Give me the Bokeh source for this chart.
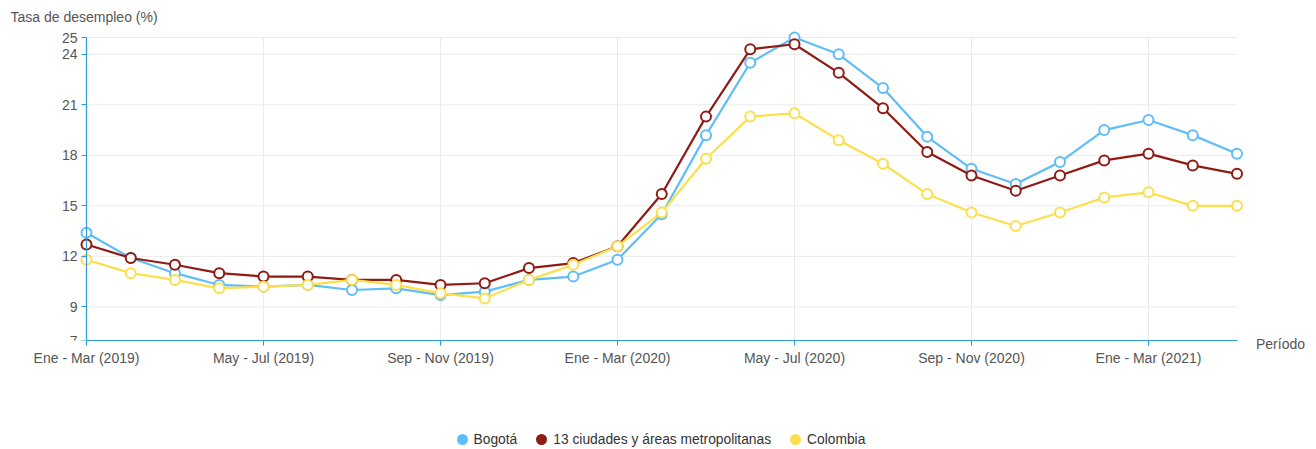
import numpy as np
from bokeh.plotting import figure
from bokeh.layouts import column
from bokeh.models import Range1d, FixedTicker, Legend, LegendItem
from bokeh.embed import file_html
from bokeh.resources import INLINE

periods = ["Ene - Mar (2019)", "Feb - Abr (2019)", "Mar - May (2019)", "Abr - Jun (2019)",
           "May - Jul (2019)", "Jun - Ago (2019)", "Jul - Sep (2019)", "Ago - Oct (2019)",
           "Sep - Nov (2019)", "Oct - Dic (2019)", "Nov - Ene (2020)", "Dic - Feb (2020)",
           "Ene - Mar (2020)", "Feb - Abr (2020)", "Mar - May (2020)", "Abr - Jun (2020)",
           "May - Jul (2020)", "Jun - Ago (2020)", "Jul - Sep (2020)", "Ago - Oct (2020)",
           "Sep - Nov (2020)", "Oct - Dic (2020)", "Nov - Ene (2021)", "Dic - Feb (2021)",
           "Ene - Mar (2021)", "Feb - Abr (2021)", "Mar - May (2021)"]
bogota = [13.4, 11.9, 11.0, 10.3, 10.2, 10.3, 10.0, 10.1, 9.7, 9.9, 10.6, 10.8, 11.8, 14.5,
          19.2, 23.5, 25.0, 24.0, 22.0, 19.1, 17.2, 16.3, 17.6, 19.5, 20.1, 19.2, 18.1]
ciudades = [12.7, 11.9, 11.5, 11.0, 10.8, 10.8, 10.6, 10.6, 10.3, 10.4, 11.3, 11.6, 12.6, 15.7,
            20.3, 24.3, 24.6, 22.9, 20.8, 18.2, 16.8, 15.9, 16.8, 17.7, 18.1, 17.4, 16.9]
colombia = [11.8, 11.0, 10.6, 10.1, 10.2, 10.3, 10.6, 10.3, 9.8, 9.5, 10.6, 11.5, 12.6, 14.6,
            17.8, 20.3, 20.5, 18.9, 17.5, 15.7, 14.6, 13.8, 14.6, 15.5, 15.8, 15.0, 15.0]
series_names = ["Bogotá", "13 ciudades y áreas metropolitanas", "Colombia"]
series_colors = ["#5fbdf7", "#8e1b14", "#fbe04c"]
y_ticks = [7, 9, 12, 15, 18, 21, 24, 25]
x_tick_step = 4

FONT = "Liberation Sans"
TXT = "#555555"
AXIS = "#2f9ad8"
GRID = "#ebebeb"

n = len(periods)
xs = list(range(n))
x_ticks = list(range(0, n, x_tick_step))

# ---------------- main chart ----------------
p = figure(width=1316, height=380,
           x_range=Range1d(-1.2655, (n - 1) + 0.983),
           y_range=Range1d(y_ticks[0], y_ticks[-1] + 0.416),
           output_backend="svg", toolbar_location=None,
           min_border_left=30, min_border_right=36,
           min_border_top=30, min_border_bottom=40,
           outline_line_color=None, background_fill_color="white",
           title="Tasa de desempleo (%)")
p.grid.visible = False
p.title.align = "left"
p.title.offset = -20
p.title.text_font = FONT
p.title.text_font_size = "14px"
p.title.text_font_style = "normal"
p.title.text_color = TXT
p.title.standoff = 12

# grid lines (from tick lists)
p.segment(x0=[0] * len(y_ticks), x1=[n - 1] * len(y_ticks), y0=y_ticks, y1=y_ticks,
          line_color=GRID, line_width=1)
p.segment(x0=x_ticks[1:], x1=x_ticks[1:], y0=[y_ticks[0]] * (len(x_ticks) - 1),
          y1=[y_ticks[-1]] * (len(x_ticks) - 1), line_color=GRID, line_width=1)

# axes
xa = p.xaxis[0]
xa.ticker = FixedTicker(ticks=x_ticks)
xa.major_label_overrides = {i: periods[i] for i in x_ticks}
xa.bounds = (0, n - 1)
xa.axis_label = "Período"
xa.axis_label_align = "end"
xa.axis_label_standoff = -33
xa.axis_label_text_font = FONT
xa.axis_label_text_font_size = "14px"
xa.axis_label_text_font_style = "normal"
xa.axis_label_text_color = TXT
ya = p.yaxis[0]
ya.ticker = FixedTicker(ticks=y_ticks)
ya.bounds = (y_ticks[0], y_ticks[-1])
ya.fixed_location = 0
for ax in (xa, ya):
    ax.axis_line_color = AXIS
    ax.axis_line_width = 1.2
    ax.major_tick_line_color = AXIS
    ax.major_tick_out = 5
    ax.major_tick_in = 0
    ax.minor_tick_out = 0
    ax.minor_tick_in = 0
    ax.major_label_text_font = FONT
    ax.major_label_text_font_size = "14px"
    ax.major_label_text_color = TXT
    ax.major_label_standoff = 4

# series
for vals, col in zip([bogota, ciudades, colombia], series_colors):
    p.line(xs, vals, line_color=col, line_width=2.2)
    p.scatter(xs, vals, size=10, fill_color="white", line_color=col, line_width=2)

# ---------------- legend strip ----------------
pl = figure(width=1316, height=69, x_range=Range1d(0, 1), y_range=Range1d(0, 1),
            x_axis_location=None, y_axis_location=None,
            output_backend="svg", toolbar_location=None,
            min_border_left=0, min_border_right=0, min_border_top=0, min_border_bottom=0,
            outline_line_color=None, background_fill_color="white")
pl.grid.visible = False
items = []
for name, col in zip(series_names, series_colors):
    r = pl.scatter(x=[np.nan], y=[np.nan], size=8, fill_color=col, line_color=col, line_width=3)
    items.append(LegendItem(label=name, renderers=[r]))
legend = Legend(items=items, orientation="horizontal", location=(421.5, 0),
                glyph_width=20, glyph_height=20, label_standoff=2, spacing=14,
                padding=0, margin=0, background_fill_alpha=0, border_line_alpha=0,
                label_text_font=FONT, label_text_font_size="13.8px", label_text_color="#333333")
pl.add_layout(legend, "center")

layout = column(p, pl, spacing=0)
open("out.html", "w").write(file_html(layout, INLINE))
